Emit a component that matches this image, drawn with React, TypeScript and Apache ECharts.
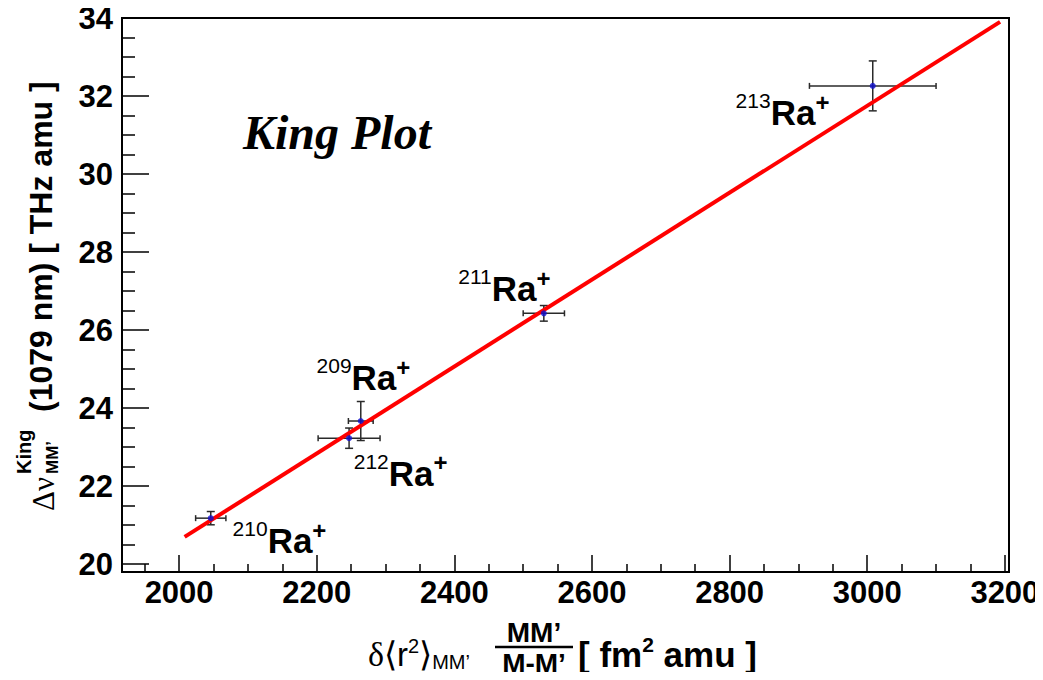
import React, { useEffect, useRef } from "react";
import * as echarts from "echarts";

// ---- axes ----
const X_MIN = 1917;
const X_MAX = 3206;
const Y_MIN = 19.8;
const Y_MAX = 34;
const xMajorTicks = [2000, 2200, 2400, 2600, 2800, 3000, 3200];
const xMinorTicks = [1950, 2050, 2100, 2150, 2250, 2300, 2350, 2450, 2500, 2550, 2650, 2700, 2750, 2850, 2900, 2950, 3050, 3100, 3150];
const yMajorTicks = [20, 22, 24, 26, 28, 30, 32, 34];
const yMinorTicks = [20.5, 21, 21.5, 22.5, 23, 23.5, 24.5, 25, 25.5, 26.5, 27, 27.5, 28.5, 29, 29.5, 30.5, 31, 31.5, 32.5, 33, 33.5];

// ---- data (isotopes) ----
const isotopes = ["209", "210", "211", "212", "213"];
const xVals = [2264, 2046, 2530, 2247, 3008];
const yVals = [23.67, 21.18, 26.43, 23.23, 32.26];
const xErr = [18, 22, 30, 45, 92];
const yErr = [0.5, 0.17, 0.2, 0.26, 0.64];

// ---- fitted line ----
const fitX = [2008, 3193];
const fitY = [20.7, 33.9];

// ---- label anchors (data coords) ----
const labelX = [2199, 2077, 2405, 2253, 2808];
const labelY = [24.84, 20.67, 27.12, 22.39, 31.64];

const SANS = '"Liberation Sans", Arial, Helvetica, sans-serif';
const SERIF = '"Liberation Serif", "Times New Roman", serif';

export default function App() {
  const ref = useRef<HTMLDivElement>(null);
  useEffect(() => {
    if (!ref.current) return;
    const chart = echarts.init(ref.current, undefined, { renderer: "svg" });

    const errData = xVals.map((v, i) => [v, yVals[i], xErr[i], yErr[i]]);
    const ptData = xVals.map((v, i) => [v, yVals[i]]);
    const lineData = fitX.map((v, i) => [v, fitY[i]]);
    const lblData = labelX.map((v, i) => ({ value: [v, labelY[i]], name: isotopes[i] }));

    const axisCommonX = { type: "value", min: X_MIN, max: X_MAX, position: "bottom", splitLine: { show: false } };
    const axisCommonY = { type: "value", min: Y_MIN, max: Y_MAX, position: "left", splitLine: { show: false } };
    const tickStyle = { color: "#000", width: 1.5 };
    const labelFont = { color: "#000", fontSize: 31, fontWeight: "bold", fontFamily: SANS };

    const option: any = {
      animation: false,
      backgroundColor: "#fff",
      grid: { left: 122, right: 34, top: 18, bottom: 108, show: true, borderColor: "#000", borderWidth: 2, backgroundColor: "transparent" },
      xAxis: [
        {
          ...axisCommonX,
          axisLine: { show: true, onZero: false, lineStyle: { color: "#000", width: 2 } },
          axisTick: { show: true, inside: true, length: 17, customValues: xMajorTicks, lineStyle: tickStyle },
          axisLabel: { show: true, customValues: xMajorTicks, margin: 5, formatter: (v: number) => String(v), ...labelFont },
        },
        {
          ...axisCommonX,
          axisLine: { show: false },
          axisTick: { show: true, inside: true, length: 8, customValues: xMinorTicks, lineStyle: tickStyle },
          axisLabel: { show: false },
        },
      ],
      yAxis: [
        {
          ...axisCommonY,
          axisLine: { show: true, onZero: false, lineStyle: { color: "#000", width: 2 } },
          axisTick: { show: true, inside: true, length: 27, customValues: yMajorTicks, lineStyle: tickStyle },
          axisLabel: { show: true, customValues: yMajorTicks, margin: 9, formatter: (v: number) => String(v), ...labelFont },
        },
        {
          ...axisCommonY,
          axisLine: { show: false },
          axisTick: { show: true, inside: true, length: 13, customValues: yMinorTicks, lineStyle: tickStyle },
          axisLabel: { show: false },
        },
      ],
      series: [
        {
          type: "custom",
          name: "errors",
          xAxisIndex: 0,
          yAxisIndex: 0,
          z: 3,
          data: errData,
          encode: { x: 0, y: 1 },
          renderItem: (params: any, api: any) => {
            const x = api.value(0);
            const y = api.value(1);
            const ex = api.value(2);
            const ey = api.value(3);
            const l = api.coord([x - ex, y]);
            const r = api.coord([x + ex, y]);
            const t = api.coord([x, y + ey]);
            const b = api.coord([x, y - ey]);
            const ch = 3;
            const cw = 4;
            const style = { stroke: "#2a2a2a", lineWidth: 1.5 };
            return {
              type: "group",
              children: [
                { type: "line", shape: { x1: l[0], y1: l[1], x2: r[0], y2: r[1] }, style },
                { type: "line", shape: { x1: l[0], y1: l[1] - ch, x2: l[0], y2: l[1] + ch }, style },
                { type: "line", shape: { x1: r[0], y1: r[1] - ch, x2: r[0], y2: r[1] + ch }, style },
                { type: "line", shape: { x1: t[0], y1: t[1], x2: b[0], y2: b[1] }, style },
                { type: "line", shape: { x1: t[0] - cw, y1: t[1], x2: t[0] + cw, y2: t[1] }, style },
                { type: "line", shape: { x1: b[0] - cw, y1: b[1], x2: b[0] + cw, y2: b[1] }, style },
              ],
            };
          },
        },
        {
          type: "line",
          name: "fit",
          xAxisIndex: 0,
          yAxisIndex: 0,
          z: 4,
          data: lineData,
          symbol: "none",
          lineStyle: { color: "#ff0000", width: 4 },
        },
        {
          type: "scatter",
          name: "points",
          xAxisIndex: 0,
          yAxisIndex: 0,
          z: 5,
          data: ptData,
          symbol: "circle",
          symbolSize: 6,
          itemStyle: { color: "#1010d0" },
        },
        {
          type: "scatter",
          name: "labels",
          xAxisIndex: 0,
          yAxisIndex: 0,
          z: 6,
          silent: true,
          data: lblData,
          symbolSize: 1,
          itemStyle: { color: "rgba(255,255,255,0)" },
          label: {
            show: true,
            position: "right",
            distance: 0,
            color: "#000",
            textBorderWidth: 0,
            opacity: 1,
            formatter: (p: any) => `{sup|${p.name}}{ra|Ra}{plus|+}`,
            rich: {
              sup: { fontFamily: SANS, fontSize: 21, fontWeight: "normal", color: "#000", verticalAlign: "top", lineHeight: 21 },
              ra: { fontFamily: SANS, fontSize: 35, fontWeight: "bold", color: "#000", verticalAlign: "bottom", lineHeight: 40 },
              plus: { fontFamily: SANS, fontSize: 24, fontWeight: "bold", color: "#000", verticalAlign: "top", lineHeight: 21 },
            },
          },
          emphasis: { disabled: true },
        },
      ],
      graphic: [
        {
          type: "text",
          x: 243,
          y: 132,
          silent: true,
          style: {
            text: "King Plot",
            fontFamily: SERIF,
            fontSize: 48,
            fontWeight: "bold",
            fontStyle: "italic",
            fill: "#000",
            align: "left",
            verticalAlign: "middle",
          },
        },
        // y-axis title (rotated)
        {
          type: "group",
          x: 41,
          y: 511,
          rotation: Math.PI / 2,
          silent: true,
          children: [
            { type: "text", x: 0, y: 2, style: { text: "Δν", fontFamily: SERIF, fontSize: 31, fill: "#000", align: "left", verticalAlign: "middle" } },
            { type: "text", x: 37, y: -17, style: { text: "King", fontFamily: SANS, fontSize: 20, fontWeight: "bold", fill: "#000", align: "left", verticalAlign: "middle" } },
            { type: "text", x: 37, y: 11, style: { text: "MM’", fontFamily: SANS, fontSize: 17, fontWeight: "bold", fill: "#000", align: "left", verticalAlign: "middle" } },
            { type: "text", x: 99, y: 0, style: { text: "(1079 nm) [ THz amu ]", fontFamily: SANS, fontSize: 32, fontWeight: "bold", fill: "#000", align: "left", verticalAlign: "middle" } },
          ],
        },
        // x-axis title
        {
          type: "text",
          x: 368,
          y: 654,
          silent: true,
          style: {
            text: "{d|δ⟨}{r|r}{s|2}{d|⟩}{sub|MM’}",
            align: "left",
            verticalAlign: "middle",
            rich: {
              d: { fontFamily: SERIF, fontSize: 34, fill: "#000", verticalAlign: "middle", lineHeight: 36 },
              r: { fontFamily: SANS, fontSize: 33, fill: "#000", verticalAlign: "middle", lineHeight: 36 },
              s: { fontFamily: SANS, fontSize: 20, fill: "#000", verticalAlign: "top", lineHeight: 20 },
              sub: { fontFamily: SANS, fontSize: 20, fill: "#000", verticalAlign: "bottom", lineHeight: 18 },
            },
          },
        },
        {
          type: "text",
          x: 534,
          y: 632,
          silent: true,
          style: { text: "MM’", fontFamily: SANS, fontSize: 28, fontWeight: "bold", fill: "#000", align: "center", verticalAlign: "middle", lineHeight: 26 },
        },
        {
          type: "line",
          silent: true,
          shape: { x1: 495, y1: 647, x2: 573, y2: 647 },
          style: { stroke: "#000", lineWidth: 2.5 },
        },
        {
          type: "text",
          x: 534,
          y: 663,
          silent: true,
          style: { text: "M-M’", fontFamily: SANS, fontSize: 28, fontWeight: "bold", fill: "#000", align: "center", verticalAlign: "middle", lineHeight: 26 },
        },
        {
          type: "text",
          x: 578,
          y: 653,
          silent: true,
          style: {
            text: "{b|[ fm}{s|2}{b| amu ]}",
            align: "left",
            verticalAlign: "middle",
            rich: {
              b: { fontFamily: SANS, fontSize: 35, fontWeight: "bold", fill: "#000", verticalAlign: "bottom", lineHeight: 38 },
              s: { fontFamily: SANS, fontSize: 21, fontWeight: "bold", fill: "#000", verticalAlign: "top", lineHeight: 20 },
            },
          },
        },
      ],
    };

    chart.setOption(option);
    return () => chart.dispose();
  }, []);

  return <div ref={ref} style={{ width: 1043, height: 680, margin: -8 }} />;
}
